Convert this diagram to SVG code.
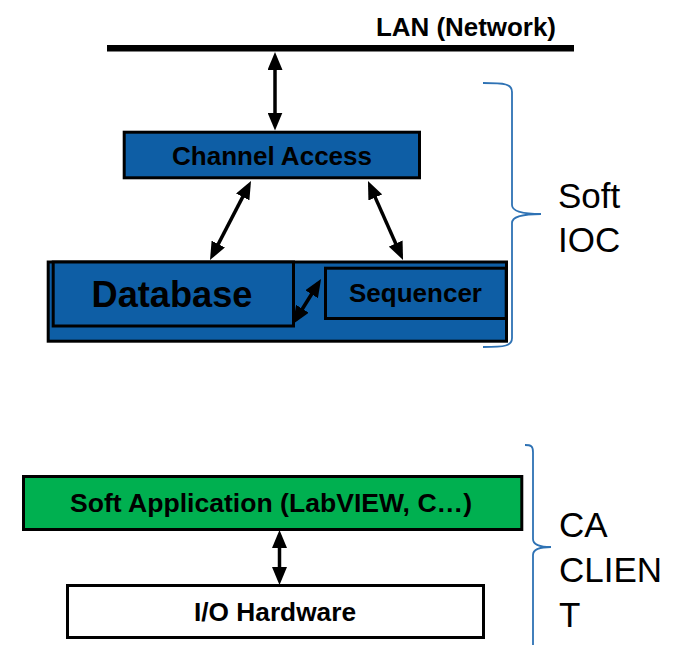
<svg xmlns="http://www.w3.org/2000/svg" width="674" height="645" viewBox="0 0 674 645">
  <style>
    .box { stroke: #000; stroke-width: 3; }
    .blue { fill: #0E5EA5; }
    .green { fill: #00B050; }
    .white { fill: #FFFFFF; }
    .lbl { font-family: "Liberation Sans", Arial, sans-serif; font-weight: bold; fill: #000; }
    .side { font-family: "Liberation Sans", Arial, sans-serif; font-size: 35px; fill: #000; }
    .brace { fill: none; stroke: #2E72B4; stroke-width: 1.8; }
    .arrow { fill: none; stroke: #000; stroke-width: 3.5; marker-start: url(#head); marker-end: url(#head); }
  </style>
  <defs>
    <marker id="head" viewBox="0 0 18 15" markerUnits="userSpaceOnUse" markerWidth="18" markerHeight="15" refX="13" refY="7.5" orient="auto-start-reverse">
      <path d="M0,0 L18,7.5 L0,15 z" fill="#000"/>
    </marker>
  </defs>

  <rect width="674" height="645" fill="#FFFFFF"/>

  <!-- network bus -->
  <g id="lan">
    <rect x="107" y="45" width="467" height="6.5" fill="#000"/>
    <text class="lbl" x="376" y="36" font-size="25" textLength="180" lengthAdjust="spacingAndGlyphs">LAN (Network)</text>
  </g>

  <!-- soft IOC container -->
  <g id="ioc">
    <rect class="box blue" x="48.2" y="262" width="458.3" height="79.2"/>
  </g>

  <g id="channel-access">
    <rect class="box blue" x="124.2" y="132.2" width="295.3" height="45.6"/>
    <text class="lbl" x="272" y="165" font-size="25" text-anchor="middle" textLength="200" lengthAdjust="spacingAndGlyphs">Channel Access</text>
  </g>

  <g id="database">
    <rect class="box blue" x="53.2" y="262" width="240.3" height="64"/>
    <text class="lbl" x="172" y="307" font-size="36" text-anchor="middle" textLength="161" lengthAdjust="spacingAndGlyphs">Database</text>
  </g>

  <g id="sequencer">
    <rect class="box blue" x="325.5" y="268.2" width="180.7" height="50.3"/>
    <text class="lbl" x="415.5" y="302" font-size="25" text-anchor="middle" textLength="133" lengthAdjust="spacingAndGlyphs">Sequencer</text>
  </g>

  <g id="soft-application">
    <rect class="box green" x="23.5" y="476.5" width="498.3" height="53"/>
    <text class="lbl" x="271" y="512" font-size="26" text-anchor="middle" textLength="402" lengthAdjust="spacingAndGlyphs">Soft Application (LabVIEW, C…)</text>
  </g>

  <g id="io-hardware">
    <rect class="box white" x="67.5" y="585.5" width="416" height="52"/>
    <text class="lbl" x="275" y="621" font-size="26" text-anchor="middle" textLength="162" lengthAdjust="spacingAndGlyphs">I/O Hardware</text>
  </g>

  <!-- bidirectional links -->
  <g id="connectors">
    <line class="arrow" x1="275" y1="57" x2="275" y2="125.5"/>
    <line class="arrow" x1="248.7" y1="185.4" x2="212.3" y2="255.6"/>
    <line class="arrow" x1="370" y1="185.6" x2="401" y2="255.4"/>
    <line class="arrow" x1="295.6" y1="319.8" x2="318.4" y2="283.2"/>
    <line class="arrow" x1="279.5" y1="535" x2="279.5" y2="580"/>
  </g>

  <!-- group brackets -->
  <g id="soft-ioc-label">
    <path class="brace" d="M483,83 C505,83 512,84 512,92 L512,205 Q512,214 541,214 Q512,214 512,223 L512,338 C512,346 505,347 483,347"/>
    <text class="side" x="558" y="208">Soft</text>
    <text class="side" x="558" y="252">IOC</text>
  </g>

  <g id="ca-client-label">
    <path class="brace" d="M525,445 C531,445 533,446 533,452 L533,539 Q533,547 551,547 Q533,547 533,555 L533,650"/>
    <text class="side" x="559" y="537">CA</text>
    <text class="side" x="559" y="582">CLIEN</text>
    <text class="side" x="559" y="627">T</text>
  </g>
</svg>
